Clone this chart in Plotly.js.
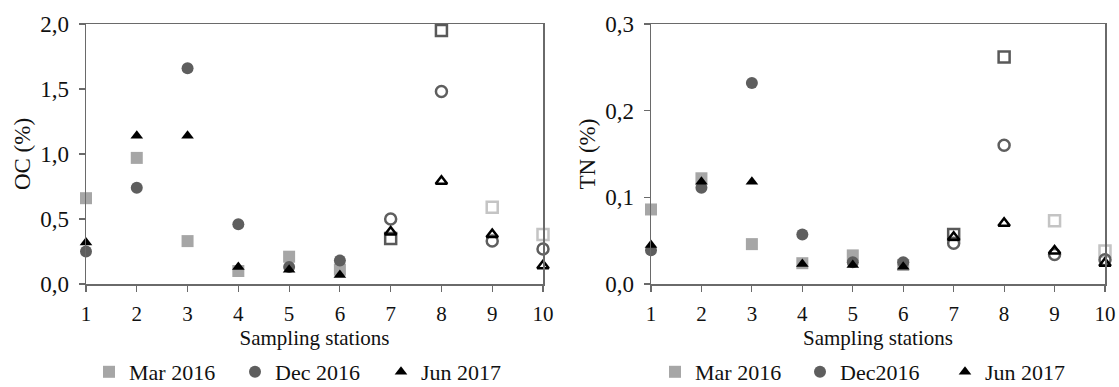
<!DOCTYPE html>
<html>
<head>
<meta charset="utf-8">
<script src="https://cdn.plot.ly/plotly-3.0.1.min.js"></script>
<style>html,body{margin:0;padding:0;background:#fff;}#chart{width:1119px;height:387px;}</style>
</head>
<body>
<div id="chart"></div>
<script>
// Data
const stations = [1, 2, 3, 4, 5, 6, 7, 8, 9, 10];
const ocMar2016 = [0.66, 0.97, 0.33, 0.10, 0.21, 0.11, 0.35, 1.95, 0.59, 0.38];
const ocDec2016 = [0.25, 0.74, 1.66, 0.46, 0.13, 0.18, 0.50, 1.48, 0.33, 0.27];
const ocJun2017 = [0.32, 1.14, 1.14, 0.13, 0.11, 0.07, 0.40, 0.79, 0.38, 0.14];
const tnMar2016 = [0.086, 0.122, 0.046, 0.024, 0.033, 0.022, 0.057, 0.262, 0.073, 0.038];
const tnDec2016 = [0.039, 0.111, 0.232, 0.057, 0.025, 0.025, 0.047, 0.160, 0.034, 0.028];
const tnJun2017 = [0.045, 0.118, 0.118, 0.023, 0.022, 0.020, 0.054, 0.070, 0.038, 0.024];
const seriesNames = ['Mar 2016', 'Dec 2016', 'Jun 2017'];
const seriesNamesRight = ['Mar 2016', 'Dec2016', 'Jun 2017'];
const xTickLabels = ['1','2','3','4','5','6','7','8','9','10'];
const ocTicks = [0, 0.5, 1.0, 1.5, 2.0];
const tnTicks = [0, 0.1, 0.2, 0.3];
// stations 1-6 filled markers, 7-10 open markers
const nFilled = 6;
const openSquareColors = ['#595959', '#595959', '#c4c4c4', '#c4c4c4'];

const FONT = 'Liberation Serif, Times New Roman, serif';
const cMar = '#a6a6a6', cDec = '#5e5e5e', cJun = '#000000';

function makeTraces(ys, names, xa, ya, legendId) {
  const styles = [
    {sym: 'square', col: cMar, size: 12, open: 'square-open', openCol: openSquareColors, openSize: 11},
    {sym: 'circle', col: cDec, size: 12, open: 'circle-open', openCol: cDec, openSize: 11},
    {sym: 'triangle-up', col: cJun, size: 11, open: 'triangle-up-open', openCol: cJun, openSize: 10}
  ];
  const out = [];
  ys.forEach((y, i) => {
    const s = styles[i];
    out.push({
      type: 'scatter', mode: 'markers', name: names[i],
      x: stations.slice(0, nFilled), y: y.slice(0, nFilled),
      xaxis: xa, yaxis: ya, legend: legendId, cliponaxis: false,
      marker: {symbol: s.sym, color: s.col, size: s.size, line: {width: 0}}
    });
    out.push({
      type: 'scatter', mode: 'markers', name: names[i] + ' (open)', showlegend: false,
      x: stations.slice(nFilled), y: y.slice(nFilled),
      xaxis: xa, yaxis: ya, legend: legendId, cliponaxis: false,
      marker: {symbol: s.open, color: s.openCol, size: s.openSize, line: {width: 2.5}}
    });
  });
  return out;
}

const traces = makeTraces([ocMar2016, ocDec2016, ocJun2017], seriesNames, 'x', 'y', 'legend')
  .concat(makeTraces([tnMar2016, tnDec2016, tnJun2017], seriesNamesRight, 'x2', 'y2', 'legend2'));

const lineCol = '#6a6a6a';
function xAxis(domain, anchor) {
  return {
    domain: domain, anchor: anchor, range: [1, 10], tickvals: stations, ticktext: xTickLabels,
    showline: true, mirror: true, linecolor: lineCol, linewidth: 1.5,
    ticks: 'outside', ticklen: 6, tickcolor: lineCol, tickwidth: 1.2,
    showgrid: false, zeroline: false, ticklabelstandoff: 4,
    tickfont: {family: FONT, size: 21, color: '#111'},
    title: {text: 'Sampling stations', font: {family: FONT, size: 21, color: '#111'}, standoff: 0}
  };
}
function yAxis(domain, anchor, range, ticks, title) {
  return {
    domain: domain, anchor: anchor, range: range, tickvals: ticks, tickformat: '.1f',
    showline: true, mirror: true, linecolor: lineCol, linewidth: 1.5,
    ticks: 'outside', ticklen: 6, tickcolor: lineCol, tickwidth: 1.2,
    showgrid: false, zeroline: false, ticklabelstandoff: 5,
    tickfont: {family: FONT, size: 23, color: '#111'},
    title: {text: title, font: {family: FONT, size: 23, color: '#111'}}
  };
}

const ydom = [1 - 284/387, 1 - 24/387];
const layout = {
  width: 1119, height: 387,
  margin: {l: 0, r: 0, t: 0, b: 0, autoexpand: false},
  paper_bgcolor: '#fff', plot_bgcolor: '#fff',
  separators: ', ',
  font: {family: FONT, color: '#111'},
  xaxis: xAxis([86/1119, 543/1119], 'y'),
  yaxis: yAxis(ydom, 'x', [0, 2.0], ocTicks, 'OC (%)'),
  xaxis2: xAxis([651/1119, 1105/1119], 'y2'),
  yaxis2: yAxis(ydom, 'x2', [0, 0.3], tnTicks, 'TN (%)'),
  legend: {
    orientation: 'h', x: 89/1119, xanchor: 'left', y: 1 - 372/387, yanchor: 'middle',
    font: {family: FONT, size: 22, color: '#111'}, entrywidth: 101, entrywidthmode: 'pixels',
    itemwidth: 30, bgcolor: 'rgba(0,0,0,0)'
  },
  legend2: {
    orientation: 'h', x: 655/1119, xanchor: 'left', y: 1 - 372/387, yanchor: 'middle',
    font: {family: FONT, size: 22, color: '#111'}, entrywidth: 100, entrywidthmode: 'pixels',
    itemwidth: 30, bgcolor: 'rgba(0,0,0,0)'
  },
  showlegend: true
};

Plotly.newPlot('chart', traces, layout, {displayModeBar: false, staticPlot: true});
</script>
</body>
</html>
